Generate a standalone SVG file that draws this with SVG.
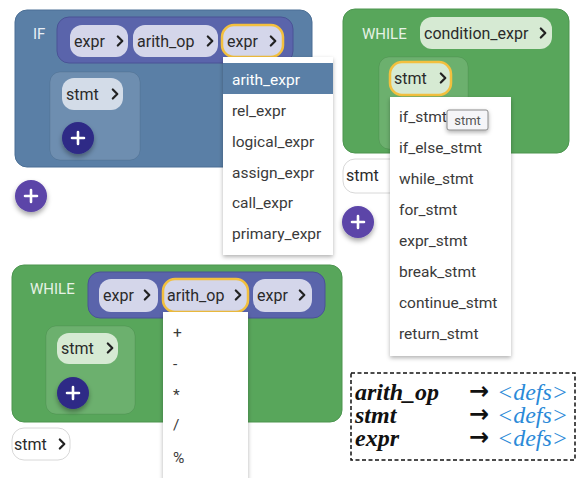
<svg xmlns="http://www.w3.org/2000/svg" width="576" height="478" viewBox="0 0 576 478">
  <defs>
    <filter id="shadow" x="-20%" y="-20%" width="140%" height="150%">
      <feDropShadow dx="0" dy="2" stdDeviation="2" flood-color="#000" flood-opacity="0.3"/>
    </filter>
    <filter id="btnShadow" x="-40%" y="-40%" width="180%" height="190%">
      <feDropShadow dx="0" dy="3" stdDeviation="2.5" flood-color="#000" flood-opacity="0.35"/>
    </filter>
    <!-- chevron icon used on every chip -->
    <path id="chev" d="M -2.2 -4.5 L 2.3 0 L -2.2 4.5" fill="none" stroke="#222" stroke-width="2.2" stroke-linecap="round" stroke-linejoin="round"/>
    <!-- add button glyph -->
    <g id="plusMark">
      <path d="M -6 0 H 6 M 0 -6 V 6" stroke="#fff" stroke-width="2.6" stroke-linecap="round"/>
    </g>
  </defs>
  <style>
    text { font-family: Roboto, "Liberation Sans", sans-serif; }
    .chipTxt { font-size: 16px; fill: #2a2a2a; }
    .kw { font-size: 15px; }
    .menuTxt { font-size: 15.5px; fill: #3a3a3a; }
    .ifBlock { fill: #5a7fa6; stroke: #4b6f95; stroke-width: 1; }
    .whileBlock { fill: #58a65b; stroke: #4c954f; stroke-width: 1; }
    .exprBar { fill: #5a64ab; stroke: #4a5396; stroke-width: 1; }
    .chipBlue { fill: #d4d6ea; }
    .chipGreen { fill: #d6ead3; }
    .chipSlate { fill: #d3dce8; }
    .chipWhite { fill: #fff; stroke: #d8d8d8; stroke-width: 1; }
    .selected { stroke: #f3c03e; stroke-width: 2.5; }
    .slot { fill: #ffffff; fill-opacity: 0.12; stroke: #000; stroke-opacity: 0.08; }
    .menu { fill: #fff; filter: url(#shadow); }
    .btnDark { fill: #2e2a86; filter: url(#btnShadow); }
    .btnPurple { fill: #5b44a8; filter: url(#btnShadow); }
    .legendKey { font-family: "Liberation Serif", "Times New Roman", serif; font-size: 24px; font-weight: bold; font-style: italic; fill: #111; }
    .legendArrow { font-family: "DejaVu Sans", sans-serif; font-size: 24px; font-weight: bold; fill: #111; }
    .legendVal { font-family: "Liberation Serif", "Times New Roman", serif; font-size: 24px; font-style: italic; fill: #2b8ad8; }
  </style>

  <rect width="576" height="478" fill="#fff"/>

  <!-- IF block with expression row and statement slot -->
  <g id="if-block">
    <rect class="ifBlock" x="15" y="10" width="297" height="157" rx="12"/>
    <text class="kw" x="33" y="39" fill="#e8eef5">IF</text>
    <rect class="exprBar" x="57" y="17" width="236" height="46" rx="12"/>
    <g id="if-expr-left">
      <rect class="chipBlue" x="70" y="25" width="58" height="32" rx="12"/>
      <text class="chipTxt" x="74" y="47">expr</text>
      <use href="#chev" x="120" y="41"/>
    </g>
    <g id="if-arith-op">
      <rect class="chipBlue" x="133" y="25" width="85" height="32" rx="12"/>
      <text class="chipTxt" x="137" y="47">arith_op</text>
      <use href="#chev" x="210" y="41"/>
    </g>
    <g id="if-expr-right">
      <rect class="chipBlue selected" x="222" y="25" width="61" height="32" rx="12"/>
      <text class="chipTxt" x="227" y="47">expr</text>
      <use href="#chev" x="273" y="41"/>
    </g>
    <rect class="slot" x="50" y="72" width="90" height="88" rx="10"/>
    <g id="if-body-stmt">
      <rect class="chipSlate" x="62" y="78" width="61" height="32" rx="12"/>
      <text class="chipTxt" x="66" y="100">stmt</text>
      <use href="#chev" x="115" y="94"/>
    </g>
    <g id="if-body-add">
      <circle class="btnDark" cx="78" cy="138" r="16"/>
      <use href="#plusMark" x="78" y="138"/>
    </g>
  </g>

  <g id="add-after-if">
    <circle class="btnPurple" cx="31" cy="196" r="16"/>
    <use href="#plusMark" x="31" y="196"/>
  </g>

  <!-- WHILE block (condition) -->
  <g id="while-condition-block">
    <rect class="whileBlock" x="343" y="9" width="226" height="144" rx="12"/>
    <text class="kw" x="362" y="39" fill="#e6f2e6">WHILE</text>
    <g id="while-condition-expr">
      <rect class="chipGreen" x="420" y="17" width="132" height="32" rx="12"/>
      <text class="chipTxt" x="424" y="39">condition_expr</text>
      <use href="#chev" x="543" y="33"/>
    </g>
    <rect class="slot" x="379" y="57" width="89" height="92" rx="10"/>
    <g id="while-body-stmt">
      <rect class="chipGreen selected" x="390" y="62" width="61" height="33" rx="12"/>
      <text class="chipTxt" x="394" y="84">stmt</text>
      <use href="#chev" x="443" y="78"/>
    </g>
  </g>

  <g id="stmt-after-while">
    <rect class="chipWhite" x="343" y="159" width="62" height="34" rx="12"/>
    <text class="chipTxt" x="346" y="181">stmt</text>
  </g>

  <g id="add-after-while">
    <circle class="btnPurple" cx="358" cy="222" r="16"/>
    <use href="#plusMark" x="358" y="222"/>
  </g>

  <!-- WHILE block (arithmetic condition) -->
  <g id="while-arith-block">
    <rect class="whileBlock" x="12" y="265" width="330" height="157" rx="12"/>
    <text class="kw" x="30" y="294" fill="#e6f2e6">WHILE</text>
    <rect class="exprBar" x="88" y="272" width="237" height="46" rx="12"/>
    <g id="while-expr-left">
      <rect class="chipBlue" x="99" y="279" width="59" height="33" rx="12"/>
      <text class="chipTxt" x="103" y="301">expr</text>
      <use href="#chev" x="147" y="295"/>
    </g>
    <g id="while-arith-op">
      <rect class="chipBlue selected" x="163" y="279" width="85" height="33" rx="12"/>
      <text class="chipTxt" x="167" y="301">arith_op</text>
      <use href="#chev" x="238" y="295"/>
    </g>
    <g id="while-expr-right">
      <rect class="chipBlue" x="253" y="279" width="59" height="33" rx="12"/>
      <text class="chipTxt" x="257" y="301">expr</text>
      <use href="#chev" x="302" y="295"/>
    </g>
    <rect class="slot" x="46" y="326" width="89" height="88" rx="10"/>
    <g id="while-arith-body-stmt">
      <rect class="chipGreen" x="57" y="333" width="61" height="31" rx="12"/>
      <text class="chipTxt" x="61" y="354">stmt</text>
      <use href="#chev" x="110" y="348"/>
    </g>
    <g id="while-arith-body-add">
      <circle class="btnDark" cx="73" cy="393" r="16"/>
      <use href="#plusMark" x="73" y="393"/>
    </g>
  </g>

  <g id="stmt-after-while-arith">
    <rect class="chipWhite" x="12" y="428" width="58" height="32" rx="12"/>
    <text class="chipTxt" x="14" y="450">stmt</text>
    <use href="#chev" x="62" y="444"/>
  </g>

  <!-- expr choice list -->
  <g id="expr-menu">
    <rect class="menu" x="223" y="57" width="110" height="198"/>
    <rect x="223" y="63" width="110" height="31" fill="#5a7fa6"/>
    <text class="menuTxt" x="232" y="85" style="fill:#fff">arith_expr</text>
    <text class="menuTxt" x="232" y="116">rel_expr</text>
    <text class="menuTxt" x="232" y="147">logical_expr</text>
    <text class="menuTxt" x="232" y="178">assign_expr</text>
    <text class="menuTxt" x="232" y="208">call_expr</text>
    <text class="menuTxt" x="232" y="239">primary_expr</text>
  </g>

  <!-- stmt choice list -->
  <g id="stmt-menu">
    <rect class="menu" x="390" y="97" width="121" height="259"/>
    <text class="menuTxt" x="399" y="122">if_stmt</text>
    <text class="menuTxt" x="399" y="153">if_else_stmt</text>
    <text class="menuTxt" x="399" y="184">while_stmt</text>
    <text class="menuTxt" x="399" y="215">for_stmt</text>
    <text class="menuTxt" x="399" y="246">expr_stmt</text>
    <text class="menuTxt" x="399" y="277">break_stmt</text>
    <text class="menuTxt" x="399" y="308">continue_stmt</text>
    <text class="menuTxt" x="399" y="339">return_stmt</text>
  </g>

  <g id="stmt-tooltip">
    <rect x="447" y="110" width="41" height="20" rx="2" fill="#f5f5f8" stroke="#8a8a8a" stroke-width="1" filter="url(#shadow)"/>
    <text x="467.5" y="125" font-size="13" fill="#555" text-anchor="middle">stmt</text>
  </g>

  <!-- arith_op choice list -->
  <g id="arith-op-menu">
    <rect class="menu" x="163" y="312" width="85" height="175"/>
    <text class="menuTxt" x="173" y="338">+</text>
    <text class="menuTxt" x="173" y="369">-</text>
    <text class="menuTxt" x="173" y="400">*</text>
    <text class="menuTxt" x="173" y="430">/</text>
    <text class="menuTxt" x="173" y="463">%</text>
  </g>

  <!-- legend of definitions: one text per column, one line per rule -->
  <g id="legend">
    <rect x="351" y="373" width="224" height="87" fill="#fff" stroke="#111" stroke-width="1.5" stroke-dasharray="4 2.5"/>
    <text class="legendKey"><tspan x="355" y="400">arith_op</tspan><tspan x="355" y="423">stmt</tspan><tspan x="355" y="446">expr</tspan></text>
    <text class="legendArrow"><tspan x="469" y="399">→</tspan><tspan x="469" y="422">→</tspan><tspan x="469" y="445">→</tspan></text>
    <text class="legendVal"><tspan x="497" y="400">&lt;defs&gt;</tspan><tspan x="497" y="423">&lt;defs&gt;</tspan><tspan x="497" y="446">&lt;defs&gt;</tspan></text>
  </g>
</svg>
